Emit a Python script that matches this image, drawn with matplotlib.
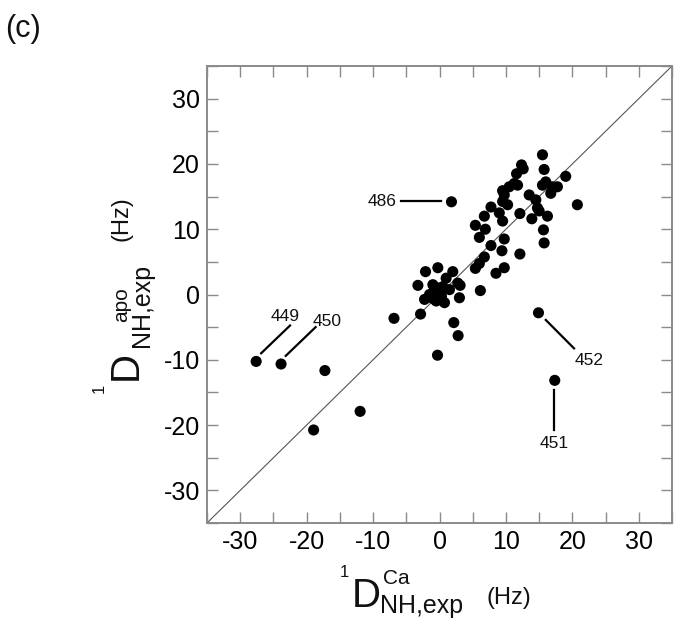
import matplotlib
matplotlib.use('Agg')
import matplotlib.pyplot as plt
from matplotlib.ticker import MultipleLocator

plt.rcParams['font.family'] = ['Liberation Sans', 'DejaVu Sans']
plt.rcParams['axes.unicode_minus'] = False

# ---------------- data ----------------
d_ca = [
    1.8, -27.6, -23.85, 14.9, 17.35,
    -17.25, -11.95, -18.95, -6.85, -2.85, -0.3, 2.15, 2.8,
    -2.1, -0.25, -3.25, 2.0, 1.0, 2.75, 3.1, 3.0, -1.0, -0.75, 0.0, -1.5,
    -2.25, -0.5, 0.75, 1.5, -0.5, 0.3, -1.0, 0.5, -0.2,
    15.5, 12.35, 12.6, 11.6, 15.75, 19.0, 11.25, 11.75, 10.5, 9.5, 9.75,
    15.5, 16.0, 17.0, 16.75, 17.75, 13.5, 14.5, 20.75, 9.5, 10.25, 7.75,
    9.0, 6.75, 14.75, 15.0, 16.25, 13.9, 12.1, 9.5, 5.4, 6.9, 6.0, 9.75,
    7.75, 15.65, 15.75, 9.4, 12.1, 6.75, 6.0, 5.4, 8.5, 9.75, 6.15,
]
d_apo = [
    14.2, -10.25, -10.65, -2.8, -13.15,
    -11.65, -17.9, -20.75, -3.65, -3.0, -9.3, -4.3, -6.3,
    3.5, 4.1, 1.4, 3.5, 2.5, 1.75, 1.4, -0.5, 1.5, 0.75, 0.5, 0.0,
    -0.75, -1.0, -1.25, 0.75, 0.2, -0.3, -0.6, 1.2, 1.0,
    21.4, 19.85, 19.25, 18.5, 19.15, 18.1, 17.0, 16.75, 16.5, 15.9, 15.25,
    16.75, 17.25, 16.5, 15.5, 16.5, 15.25, 14.5, 13.75, 14.25, 13.75, 13.4,
    12.5, 12.0, 13.25, 12.8, 12.0, 11.6, 12.4, 11.25, 10.6, 10.0, 8.75, 8.5,
    7.5, 9.9, 7.9, 6.7, 6.2, 5.75, 4.75, 4.0, 3.25, 4.1, 0.6,
]
labels = ['486', '449', '450', '452', '451']
label_idx = [0, 1, 2, 3, 4]

x_ticks = [-30, -20, -10, 0, 10, 20, 30]
y_ticks = [-30, -20, -10, 0, 10, 20, 30]

# ---------------- layout ----------------
W, H = 679, 627
fig = plt.figure(figsize=(W / 100, H / 100), dpi=100)
ax = fig.add_axes([207 / W, 1 - 523 / H, 465 / W, 457 / H])

lim = (-35, 35)
ax.set_xlim(*lim)
ax.set_ylim(*lim)

ax.plot(lim, lim, color='#555555', lw=0.8, zorder=1)
ax.scatter(d_ca, d_apo, s=64, c='black', edgecolors='none', zorder=3)

# leader lines: (line start offset, line end offset, text offset, ha, va)
leader = [
    ((-7.55, 0.05), (-1.55, 0.05), (-8.2, 0.05), 'right', 'center'),
    ((0.75, 1.25), (5.1, 5.5), (2.25, 6.15), 'left', 'baseline'),
    ((0.7, 1.25), (5.2, 5.65), (4.7, 5.9), 'left', 'baseline'),
    ((1.1, -1.1), (5.35, -5.45), (5.45, -7.95), 'left', 'baseline'),
    ((-0.1, -1.5), (-0.1, -7.6), (-0.05, -10.35), 'center', 'baseline'),
]
for lab, i, (s0, s1, t, ha, va) in zip(labels, label_idx, leader):
    px0, py0 = d_ca[i], d_apo[i]
    ax.plot([px0 + s0[0], px0 + s1[0]], [py0 + s0[1], py0 + s1[1]],
            color='black', lw=1.6, zorder=2)
    ax.text(px0 + t[0], py0 + t[1], lab, ha=ha, va=va, fontsize=12.5,
            color='#111111')

ax.set_xticks(x_ticks)
ax.set_yticks(y_ticks)
ax.xaxis.set_minor_locator(MultipleLocator(5))
ax.yaxis.set_minor_locator(MultipleLocator(5))
ax.tick_params(which='both', direction='in', length=8, width=1.0,
               color='#8a8a8a', top=True, right=True)
ax.tick_params(which='major', labelsize=18, pad=5)
for sp in ax.spines.values():
    sp.set_color('#8a8a8a')
    sp.set_linewidth(1.4)


def ftext(x, y, s, size, **kw):
    fig.text(x / W, 1 - y / H, s, fontsize=size, ha='left', va='baseline',
             color='#111111', **kw)


# panel label
ftext(5, 37, '(c)', 22)

# x label pieces
ftext(340, 577, '1', 12)
ftext(352, 607, 'D', 29)
ftext(383, 584, 'Ca', 15)
ftext(380, 613, 'NH,exp', 18)
ftext(487, 604, '(Hz)', 17)

# y label pieces (rotated)
rot = dict(rotation=90, rotation_mode='anchor')
ftext(104, 393, '1', 12, **rot)
ftext(137, 380, 'D', 29, **rot)
ftext(127, 322, 'apo', 15, **rot)
ftext(149, 347, 'NH,exp', 18, **rot)
ftext(128, 241, '(Hz)', 17, **rot)

fig.savefig('out.png', dpi=100)
